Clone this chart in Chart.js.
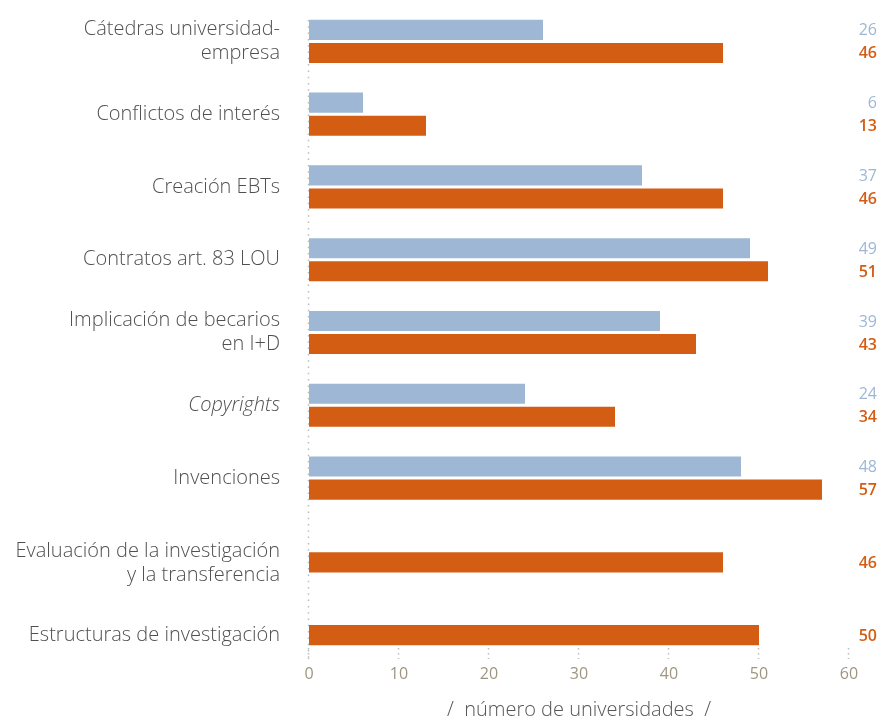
<!DOCTYPE html>
<html>
<head>
<meta charset="utf-8">
<script src="https://cdn.jsdelivr.net/npm/chart.js@4/dist/chart.umd.min.js"></script>
<style>
  html, body { margin: 0; padding: 0; background: #fff; }
  #wrap { width: 882px; height: 720px; }
</style>
</head>
<body>
<div id="wrap"><canvas id="grafico"></canvas></div>
<script>
// las dos ultimas categorias solo tienen la barra naranja: la linea vacia baja el texto a su altura
const categorias = [
  ['Cátedras universidad-', 'empresa'],
  'Conflictos de interés',
  'Creación EBTs',
  'Contratos art. 83 LOU',
  ['Implicación de becarios', 'en I+D'],
  'Copyrights',
  'Invenciones',
  ['', 'Evaluación de la investigación', 'y la transferencia'],
  ['', 'Estructuras de investigación']
];
const serieAzul = [26, 6, 37, 49, 39, 24, 48, null, null];
const serieNaranja = [46, 13, 46, 51, 43, 34, 57, 46, 50];
const ticksX = [0, 10, 20, 30, 40, 50, 60];

const AZUL = 'rgb(157, 183, 213)';
const NARANJA = 'rgb(212, 93, 20)';
const FUENTE = "'Open Sans', 'Noto Sans', sans-serif";

// numeros a la derecha del grafico
const etiquetasValor = {
  id: 'etiquetasValor',
  afterDatasetsDraw(chart) {
    const ctx = chart.ctx;
    ctx.save();
    ctx.textAlign = 'right';
    ctx.textBaseline = 'middle';
    chart.data.datasets.forEach((ds, i) => {
      const meta = chart.getDatasetMeta(i);
      ctx.fillStyle = ds.backgroundColor;
      ctx.font = (i === 1 ? '600 ' : '400 ') + '16px ' + FUENTE;
      meta.data.forEach((bar, j) => {
        if (ds.data[j] == null) return;
        ctx.fillText(String(ds.data[j]), 877, bar.y + 1);
      });
    });
    ctx.restore();
  }
};

// linea vertical y marcas punteadas
const punteado = {
  id: 'punteado',
  beforeDatasetsDraw(chart) {
    const ctx = chart.ctx;
    const x = chart.scales.x;
    const area = chart.chartArea;
    ctx.save();
    ctx.strokeStyle = '#bdbdbd';
    ctx.lineWidth = 1.5;
    ctx.setLineDash([1.5, 4.8]);
    ctx.beginPath();
    ctx.moveTo(area.left - 0.5, area.top + 15);
    ctx.lineTo(area.left - 0.5, area.bottom - 2);
    ctx.stroke();
    ctx.setLineDash([1.5, 3.5]);
    x.ticks.forEach(t => {
      const px = x.getPixelForValue(t.value) - 0.5;
      ctx.beginPath();
      ctx.moveTo(px, area.bottom - 12);
      ctx.lineTo(px, area.bottom - 1);
      ctx.stroke();
    });
    ctx.restore();
  }
};

new Chart(document.getElementById('grafico'), {
  type: 'bar',
  data: {
    labels: categorias,
    datasets: [{
      label: 'serie 1',
      data: serieAzul,
      backgroundColor: AZUL,
      categoryPercentage: 0.634,
      barPercentage: 0.87
    }, {
      label: 'serie 2',
      data: serieNaranja,
      backgroundColor: NARANJA,
      categoryPercentage: 0.634,
      barPercentage: 0.87
    }]
  },
  options: {
    indexAxis: 'y',
    responsive: true,
    maintainAspectRatio: false,
    animation: false,
    layout: { padding: { top: 5, right: 33, left: 0, bottom: 0 } },
    plugins: {
      legend: { display: false },
      tooltip: { enabled: false }
    },
    scales: {
      y: {
        grid: { display: false, drawTicks: false },
        border: { display: false },
        afterFit: s => { s.width = 309; s.paddingTop = 0; s.paddingBottom = 0; },
        ticks: {
          autoSkip: false,
          color: '#505050',
          padding: 29,
          font: c => ({
            family: FUENTE,
            size: 20,
            weight: 300,
            lineHeight: 1.2,
            style: c.index === 5 ? 'italic' : 'normal'
          })
        }
      },
      x: {
        min: 0,
        max: 60,
        afterBuildTicks: s => { s.ticks = ticksX.map(v => ({ value: v })); },
        afterFit: s => { s.height = 60; s.paddingLeft = 0; s.paddingRight = 0; },
        grid: { display: false, drawTicks: false },
        border: { display: false },
        ticks: {
          autoSkip: false,
          maxRotation: 0,
          color: '#9e9682',
          padding: 5,
          font: { family: FUENTE, size: 16 }
        },
        title: {
          display: true,
          text: '/  número de universidades  /',
          color: '#555555',
          padding: { top: 0, bottom: 0 },
          font: { family: FUENTE, size: 20, weight: 300, lineHeight: 1 }
        }
      }
    }
  },
  plugins: [etiquetasValor, punteado]
});
</script>
</body>
</html>
